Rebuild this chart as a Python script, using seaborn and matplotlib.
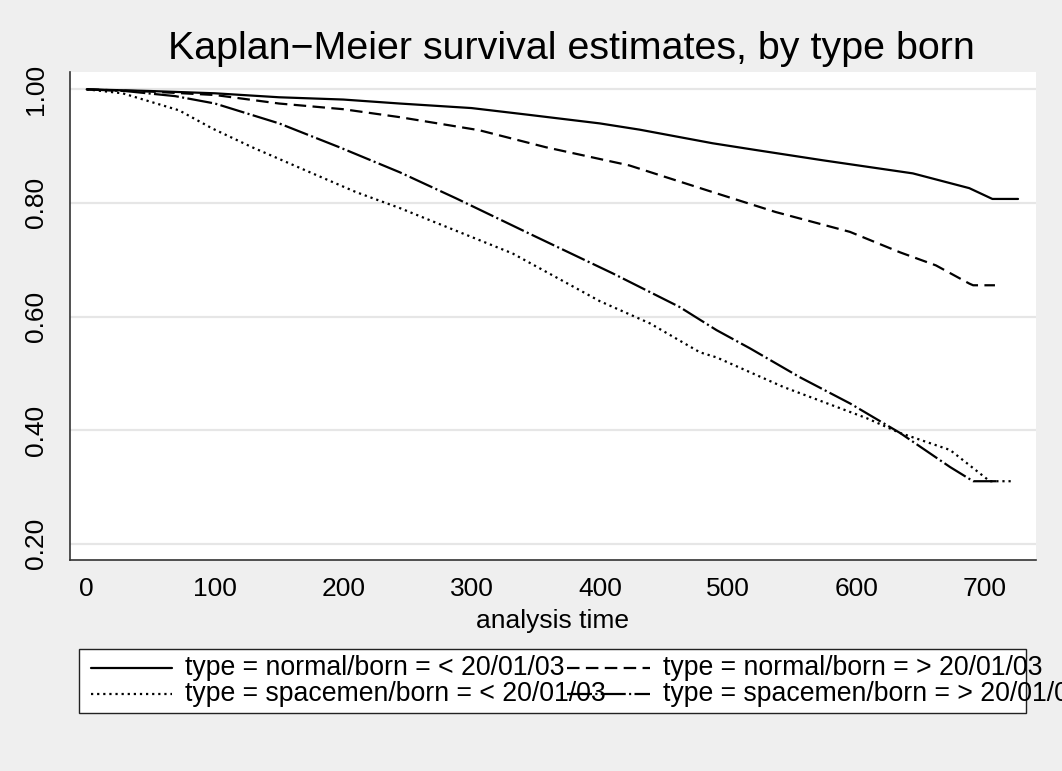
import numpy as np
import pandas as pd
import seaborn as sns
import matplotlib
matplotlib.use("Agg")
import matplotlib.pyplot as plt
from matplotlib.patches import Rectangle

# ---------------- data ----------------
title = "Kaplan\u2212Meier survival estimates, by type born"
x_label = "analysis time"
x_ticks = [0, 100, 200, 300, 400, 500, 600, 700]
y_ticks = [0.20, 0.40, 0.60, 0.80, 1.00]
y_tick_labels = ["0.20", "0.40", "0.60", "0.80", "1.00"]

groups = [
    "type = normal/born = < 20/01/03",
    "type = normal/born = > 20/01/03",
    "type = spacemen/born = < 20/01/03",
    "type = spacemen/born = > 20/01/03",
]

t_normal_before = [0, 50, 100, 150, 200, 244, 300, 345, 400, 431, 488, 522, 574, 644, 688, 706, 726]
s_normal_before = [1.0, 0.997, 0.993, 0.986, 0.982, 0.975, 0.967, 0.955, 0.940, 0.929, 0.905, 0.893,
                   0.875, 0.852, 0.826, 0.807, 0.807]

t_normal_after = [0, 50, 100, 150, 200, 244, 306, 358, 423, 488, 537, 595, 634, 662, 688, 691, 708]
s_normal_after = [1.0, 0.996, 0.990, 0.975, 0.965, 0.951, 0.928, 0.898, 0.866, 0.819, 0.784, 0.749,
                  0.713, 0.690, 0.658, 0.655, 0.655]

t_space_before = [0, 28, 72, 98, 129, 176, 210, 244, 267, 332, 400, 439, 478, 491, 543, 608, 634,
                  673, 686, 704, 723]
s_space_before = [1.0, 0.993, 0.963, 0.931, 0.898, 0.852, 0.819, 0.791, 0.770, 0.711, 0.627, 0.588,
                  0.537, 0.528, 0.476, 0.421, 0.395, 0.365, 0.342, 0.310, 0.310]

t_space_after = [0, 30, 69, 100, 150, 197, 244, 288, 345, 410, 462, 491, 517, 556, 595, 634, 673,
                 691, 709]
s_space_after = [1.0, 0.997, 0.988, 0.975, 0.940, 0.898, 0.854, 0.808, 0.746, 0.676, 0.617, 0.576,
                 0.544, 0.493, 0.447, 0.395, 0.335, 0.310, 0.310]

# ---------------- style ----------------
sns.set_theme(style="white")
plt.rcParams["font.family"] = ["Liberation Sans", "DejaVu Sans"]
plt.rcParams["lines.scale_dashes"] = False

W, H = 1062, 771
fig = plt.figure(figsize=(W / 100, H / 100), dpi=100, facecolor="#efefef")
ax = fig.add_axes([70 / W, 1 - 560 / H, 966 / W, 488 / H])
ax.set_facecolor("white")

df = pd.concat([
    pd.DataFrame({"time": t_normal_before, "surv": s_normal_before, "group": groups[0]}),
    pd.DataFrame({"time": t_normal_after, "surv": s_normal_after, "group": groups[1]}),
    pd.DataFrame({"time": t_space_before, "surv": s_space_before, "group": groups[2]}),
    pd.DataFrame({"time": t_space_after, "surv": s_space_after, "group": groups[3]}),
], ignore_index=True)

dash_map = {
    groups[0]: "",
    groups[1]: (9.0, 4.6),
    groups[2]: (1.6, 2.8),
    groups[3]: (18.0, 2.4, 1.5, 2.4),
}
palette = {g: "black" for g in groups}

sns.lineplot(data=df, x="time", y="surv", hue="group", style="group", palette=palette,
             dashes=dash_map, estimator=None, sort=False, linewidth=1.6, legend=False, ax=ax)

ax.set_xlim(-13, 740)
ax.set_ylim(0.1713, 1.0305)
ax.set_xticks(x_ticks)
ax.set_xticklabels([str(v) for v in x_ticks])
ax.set_yticks(y_ticks)
ax.set_yticklabels(y_tick_labels, rotation=90, va="center")
ax.grid(axis="y", color="#e6e6e6", linewidth=1.6)
ax.grid(axis="x", visible=False)
ax.set_axisbelow(True)
for s in ["top", "right"]:
    ax.spines[s].set_visible(False)
for s in ["left", "bottom"]:
    ax.spines[s].set_color("#333333")
    ax.spines[s].set_linewidth(1.2)
ax.tick_params(axis="both", direction="out", length=7, width=1.1, color="#333333",
               labelsize=19, labelcolor="black")
ax.tick_params(axis="y", pad=9)
ax.tick_params(axis="x", pad=5)
ax.set_xlabel(x_label, fontsize=19, labelpad=6, color="black")
ax.set_ylabel("")

fig.text(571 / W, 1 - 59 / H, title, ha="center", va="baseline", fontsize=28.4, color="black")

# ---------------- legend (drawn as in the reference, text overflowing the box) ----------------
lax = fig.add_axes([0, 0, 1, 1], zorder=5)
lax.set_xlim(0, W)
lax.set_ylim(H, 0)
lax.axis("off")
lax.patch.set_alpha(0)
lax.add_patch(Rectangle((79, 649), 947, 64, facecolor="white", edgecolor="#222222", linewidth=1.0))
row_y = [668, 694]
col_line = [(91, 172), (567, 650)]
col_text = [185, 663]
order = [(0, 0, 0), (1, 0, 1), (2, 1, 0), (3, 1, 1)]
for gi, r, c in order:
    lax.text(col_text[c], row_y[r], groups[gi], ha="left", va="center", fontsize=19.2, color="black")
for gi, r, c in order:
    d = dash_map[groups[gi]]
    x0, x1 = col_line[c]
    if d == "":
        lax.plot([x0, x1], [row_y[r], row_y[r]], color="black", linewidth=1.6, zorder=6)
    else:
        lax.plot([x0, x1], [row_y[r], row_y[r]], color="black", linewidth=1.6, dashes=d, zorder=6)

fig.savefig("out.png", dpi=100, facecolor=fig.get_facecolor())
